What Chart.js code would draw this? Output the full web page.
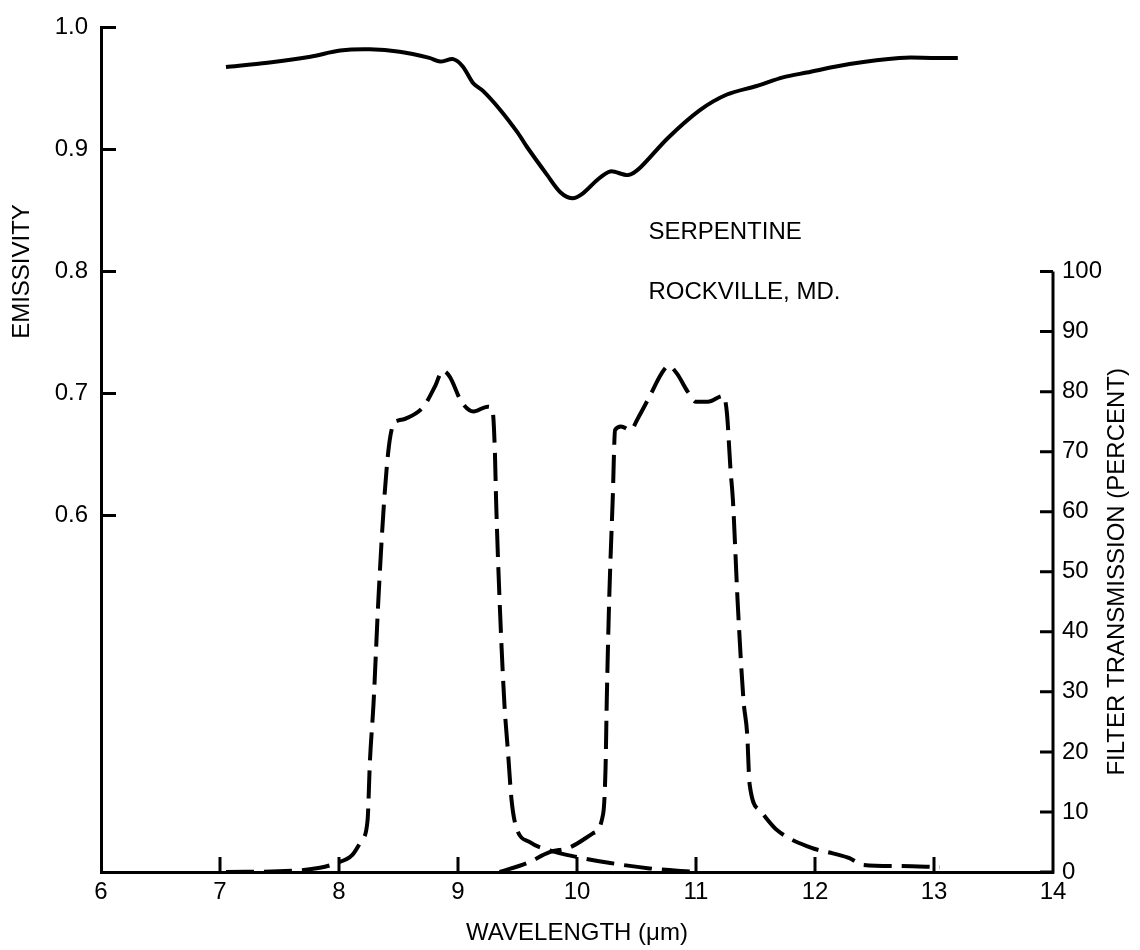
<!DOCTYPE html>
<html>
<head>
<meta charset="utf-8">
<script src="https://cdn.jsdelivr.net/npm/chart.js@4.4.0/dist/chart.umd.min.js"></script>
<style>
  html, body { margin: 0; padding: 0; background: #fff; }
  #wrap { width: 1140px; height: 950px; }
</style>
</head>
<body>
<div id="wrap"><canvas id="chart" width="1140" height="950"></canvas></div>
<script>
// emissivity of serpentine (left axis)
const emisWl  = [7.05, 7.4, 7.76, 8.01, 8.26, 8.51, 8.76, 8.85, 8.96, 9.04, 9.13, 9.21, 9.35, 9.50, 9.58, 9.75, 9.86, 9.96, 10.05, 10.17, 10.28, 10.43, 10.53, 10.76, 11.03, 11.26, 11.51, 11.73, 11.93, 12.29, 12.71, 12.99, 13.20];
const emisVal = [0.9675, 0.971, 0.976, 0.981, 0.982, 0.980, 0.975, 0.972, 0.974, 0.968, 0.954, 0.948, 0.933, 0.914, 0.902, 0.879, 0.865, 0.860, 0.864, 0.875, 0.882, 0.879, 0.885, 0.909, 0.932, 0.945, 0.952, 0.959, 0.963, 0.970, 0.975, 0.975, 0.975];

// filter transmission, percent (right axis)
const filter1Wl  = [7.05, 7.6, 7.84, 7.98, 8.11, 8.19, 8.24, 8.26, 8.29, 8.33, 8.38, 8.42, 8.46, 8.50, 8.56, 8.71, 8.81, 8.87, 8.93, 9.03, 9.13, 9.25, 9.29, 9.31, 9.32, 9.35, 9.39, 9.42, 9.45, 9.49, 9.60, 9.77, 10.0, 10.28, 10.61, 11.0];
const filter1Val = [0, 0.2, 0.7, 1.5, 2.8, 5.3, 8.6, 18.5, 28, 45, 62, 71, 74.7, 75.2, 75.5, 77.5, 81, 83.5, 82.5, 78.3, 76.7, 77.5, 76.9, 70, 62, 45, 28, 20, 12, 7.4, 5, 3.6, 2.5, 1.5, 0.6, 0];

const filter2Wl  = [9.35, 9.58, 9.77, 9.94, 10.13, 10.22, 10.24, 10.25, 10.27, 10.30, 10.32, 10.37, 10.45, 10.51, 10.61, 10.71, 10.77, 10.84, 10.93, 11.00, 11.10, 11.23, 11.26, 11.29, 11.31, 11.35, 11.40, 11.43, 11.45, 11.54, 11.68, 11.96, 12.15, 12.29, 12.4, 12.7, 13.05];
const filter2Val = [0, 1.5, 3.3, 4.1, 6.4, 9.7, 17.4, 28.4, 45, 62, 73.6, 74.2, 73.6, 75.5, 79.2, 83, 84.3, 83, 80, 78.3, 78.3, 79.3, 76.4, 67, 62, 45, 28.4, 23, 14.7, 10.2, 7, 4.1, 3.1, 2.3, 1.2, 1.0, 0.8];

const xTicks = [6, 7, 8, 9, 10, 11, 12, 13, 14];
const emisTicks = [0.6, 0.7, 0.8, 0.9, 1.0];
const transTicks = [0, 10, 20, 30, 40, 50, 60, 70, 80, 90, 100];

const FONT = '"Liberation Sans", Arial, sans-serif';
Chart.defaults.font.family = FONT;
Chart.defaults.color = '#000';

function toPoints(xs, ys) {
  return xs.map((x, i) => ({ x: x, y: ys[i] }));
}

// inner tick marks, partial right axis line, rotated titles and the sample label
const decorations = {
  id: 'decorations',
  afterDraw(chart) {
    const ctx = chart.ctx;
    const area = chart.chartArea;
    const sx = chart.scales.x, sy = chart.scales.y, sy2 = chart.scales.y2;
    ctx.save();
    ctx.strokeStyle = '#000';
    ctx.lineWidth = 3;
    ctx.lineCap = 'butt';
    ctx.beginPath();
    // right axis only runs 0..100
    ctx.moveTo(area.right, sy2.getPixelForValue(0) + 1.5);
    ctx.lineTo(area.right, sy2.getPixelForValue(100));
    emisTicks.forEach(v => {
      const y = sy.getPixelForValue(v);
      ctx.moveTo(area.left, y);
      ctx.lineTo(area.left + 15, y);
    });
    transTicks.forEach(v => {
      const y = sy2.getPixelForValue(v);
      ctx.moveTo(area.right, y);
      ctx.lineTo(area.right - 13, y);
    });
    xTicks.slice(1, -1).forEach(v => {
      const x = sx.getPixelForValue(v);
      ctx.moveTo(x, area.bottom);
      ctx.lineTo(x, area.bottom - 15);
    });
    ctx.stroke();

    ctx.fillStyle = '#000';
    ctx.font = '24px ' + FONT;
    ctx.textBaseline = 'middle';
    ctx.textAlign = 'center';

    ctx.save();
    ctx.translate(22, sy.getPixelForValue(0.8));
    ctx.rotate(-Math.PI / 2);
    ctx.fillText('EMISSIVITY', 0, 0);
    ctx.restore();

    ctx.save();
    ctx.translate(1117, (sy2.getPixelForValue(0) + sy2.getPixelForValue(100)) / 2);
    ctx.rotate(-Math.PI / 2);
    ctx.fillText('FILTER TRANSMISSION (PERCENT)', 0, 0);
    ctx.restore();

    ctx.textAlign = 'left';
    ctx.fillText('SERPENTINE', sx.getPixelForValue(10.6), sy.getPixelForValue(0.832));
    ctx.fillText('ROCKVILLE, MD.', sx.getPixelForValue(10.6), sy.getPixelForValue(0.783));
    ctx.restore();
  }
};

const ctx = document.getElementById('chart').getContext('2d');
new Chart(ctx, {
  type: 'line',
  data: {
    datasets: [
      {
        label: 'Emissivity',
        data: toPoints(emisWl, emisVal),
        yAxisID: 'y',
        borderColor: '#000',
        borderWidth: 4,
        pointRadius: 0,
        tension: 0.3,
        fill: false,
        clip: false
      },
      {
        label: 'Filter 1',
        data: toPoints(filter1Wl, filter1Val),
        yAxisID: 'y2',
        borderColor: '#000',
        borderWidth: 4,
        borderDash: [28, 10],
        pointRadius: 0,
        cubicInterpolationMode: 'monotone',
        fill: false,
        clip: false
      },
      {
        label: 'Filter 2',
        data: toPoints(filter2Wl, filter2Val),
        yAxisID: 'y2',
        borderColor: '#000',
        borderWidth: 4,
        borderDash: [28, 10],
        pointRadius: 0,
        cubicInterpolationMode: 'monotone',
        fill: false,
        clip: false
      }
    ]
  },
  options: {
    responsive: false,
    animation: false,
    layout: { padding: { top: 21, left: 0, right: 0, bottom: 0 } },
    plugins: {
      legend: { display: false },
      tooltip: { enabled: false }
    },
    scales: {
      x: {
        type: 'linear',
        min: 6,
        max: 14,
        afterBuildTicks: s => { s.ticks = xTicks.map(v => ({ value: v })); },
        afterFit: s => { s.height = 78; },
        grid: { display: false, drawTicks: false, tickLength: 0 },
        border: { display: true, color: '#000', width: 3 },
        ticks: { font: { size: 24 }, padding: 6, maxRotation: 0, autoSkip: false },
        title: { display: true, text: 'WAVELENGTH (\u03bcm)', font: { size: 24 }, padding: { top: 0, bottom: 2 } }
      },
      y: {
        position: 'left',
        min: 0.308,
        max: 1.0,
        afterBuildTicks: s => { s.ticks = emisTicks.map(v => ({ value: v })); },
        afterFit: s => { s.width = 101; },
        grid: { display: false, drawTicks: false, tickLength: 0 },
        border: { display: true, color: '#000', width: 3 },
        ticks: { font: { size: 24 }, padding: 13, callback: v => v.toFixed(1) }
      },
      y2: {
        position: 'right',
        min: 0,
        max: 140.66,
        afterBuildTicks: s => { s.ticks = transTicks.map(v => ({ value: v })); },
        afterFit: s => { s.width = 87; },
        grid: { display: false, drawTicks: false, tickLength: 0 },
        border: { display: false },
        ticks: { font: { size: 24 }, padding: 9 }
      }
    }
  },
  plugins: [decorations]
});
</script>
</body>
</html>
